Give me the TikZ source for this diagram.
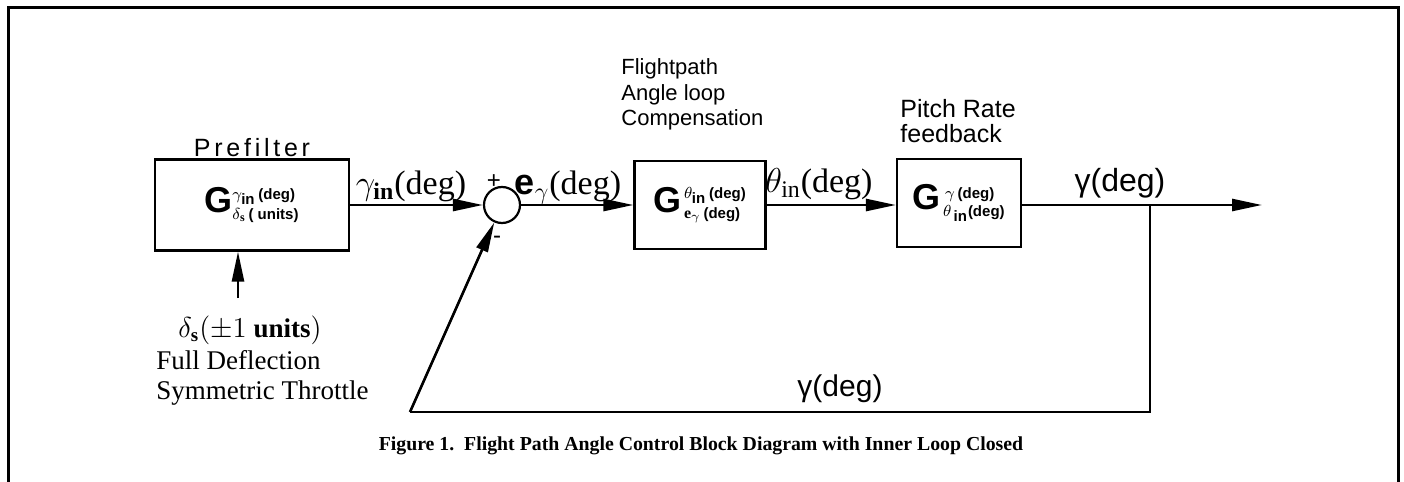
\documentclass[tikz,border=0pt]{standalone}
\usepackage{amsmath, amssymb}
\usepackage{fontspec}
\setmainfont{Liberation Serif}
\setsansfont{Liberation Sans}
\newfontfamily\spacedsans[LetterSpace=15]{Liberation Sans}
\usetikzlibrary{arrows.meta}

% small bold sans for the transfer function scripts
\newcommand{\tfs}[1]{\mbox{\sffamily\bfseries\fontsize{7.5}{8}\selectfont #1}}
\newcommand{\tfG}{{\sffamily\bfseries\fontsize{18}{18}\selectfont G}}

\begin{document}
\begin{tikzpicture}[x=0.5pt, y=-0.5pt,
    blockbox/.style={draw, line width=1.1pt, inner sep=0pt, font=\fontsize{12}{14}\selectfont},
    sumnode/.style={draw, circle, line width=1.1pt, minimum size=18pt, inner sep=0pt},
    wire/.style={line width=1.3pt},
    sig/.style={wire, -{Triangle[length=15pt, width=6pt]}},
    sanslbl/.style={font=\sffamily\fontsize{11}{12.5}\selectfont, align=left, inner sep=0pt},
    serlbl/.style={font=\fontsize{13.5}{15}\selectfont, align=left, inner sep=0pt},
    wirelbl/.style={font=\fontsize{17}{19}\selectfont, inner sep=0pt}]
  \useasboundingbox (0,0) rectangle (1404,482);

  % Frame, open at the bottom
  \draw[line width=1.5pt] (8,482) -- (8,7) -- (1398,7) -- (1398,482);

  % Blocks and summing junction
  \node[blockbox, minimum width=97pt, minimum height=45.5pt] (pre) at (252,205)
    {\tfG$^{\gamma_{\tfs{in}}\,\tfs{(deg)}}_{\delta_{\mathbf{s}}\,\tfs{( units)}}$};
  \node[sumnode] (sum) at (502,205) {};
  \node[blockbox, minimum width=65.5pt, minimum height=44pt] (comp) at (700,205)
    {\tfG$^{\,\theta_{\tfs{in}}\,\tfs{(deg)}}_{\,\mathbf{e}_{\gamma}\,\tfs{(deg)}}$};
  \node[blockbox, minimum width=62pt, minimum height=44pt] (pitch) at (959,203)
    {\tfG$^{\;\gamma\,\tfs{(deg)}}_{\,\theta_{\,\tfs{in}}\tfs{(deg)}}$};

  % Free ends and corners of the loop
  \coordinate (thr) at (238,298);
  \coordinate (out) at (1262,205);
  \coordinate (tap) at (1150,205);
  \coordinate (fbr) at (1150,412);
  \coordinate (fbl) at (410,412);

  % Forward path
  \draw[sig] (pre.east |- sum) -- (sum);
  \draw[sig] (sum) -- (comp);
  \draw[sig] (comp) -- (pitch.west |- comp);
  \draw[sig] (pitch.east |- out) -- (out);
  \draw[sig] (thr) -- (thr |- pre.south);

  % Feedback loop
  \draw[wire] (tap) -- (fbr) -- (fbl);
  \draw[sig] (fbl) -- (sum);

  % Block titles
  \node[font=\spacedsans\fontsize{12.5}{14}\selectfont, anchor=base] (pretitle) at (252,156) {Prefilter};
  \node[sanslbl, anchor=base west] (comptitle) at (621,125) {Flightpath\\Angle loop\\Compensation};
  \node[sanslbl, font=\sffamily\fontsize{12.5}{12.5}\selectfont, anchor=base west] (pitchtitle) at (900,142) {Pitch Rate\\feedback};

  % Signal labels
  \node[wirelbl, anchor=base] (gin) at (411,194) {$\gamma_{\mathsf{\textbf{in}}}$(deg)};
  \node[font=\sffamily\fontsize{12}{12}\selectfont] (plus) at (494,182) {+};
  \node[font=\sffamily\fontsize{12}{12}\selectfont] (minus) at (497,240) {-};
  \node[wirelbl, anchor=base] (err) at (568,194) {{\sffamily\bfseries\fontsize{18}{18}\selectfont e}$_{\gamma}$(deg)};
  \node[wirelbl, anchor=base] (thin) at (819,192) {$\theta_{\mathrm{in}}$(deg)};
  \node[font=\sffamily\fontsize{16}{18}\selectfont, anchor=base] (gout) at (1120,191) {γ(deg)};
  \node[font=\sffamily\fontsize{15}{17}\selectfont, anchor=base] (gfb) at (840,396) {γ(deg)};

  % Throttle input description
  \node[serlbl, anchor=base] (dels) at (250,337) {$\delta_{\mathbf{s}}(\pm 1$ \textbf{units}$)$};
  \node[serlbl, anchor=base west] (thrtxt) at (156,399) {Full Deflection\\Symmetric Throttle};

  % Caption
  \node[font=\bfseries\fontsize{9.9}{11}\selectfont, anchor=base] (cap) at (701,450)
    {Figure 1.\ \ Flight Path Angle Control Block Diagram with Inner Loop Closed};
\end{tikzpicture}
\end{document}
